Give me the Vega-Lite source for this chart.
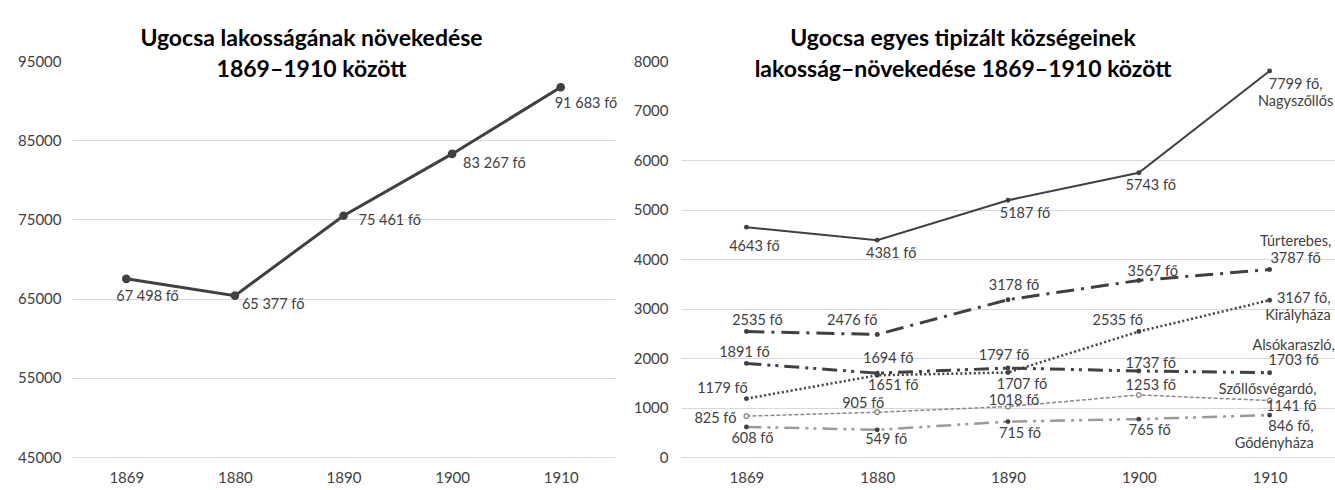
{
"$schema":"https://vega.github.io/schema/vega-lite/v6.json",
"background":"white",
"padding":{"left":17,"top":28,"right":0,"bottom":0},
"spacing":15,
"config":{
 "font":"Lato",
 "view":{"stroke":null},
 "axis":{"labelFont":"Lato","labelFontSize":15,"labelColor":"#404040","gridColor":"#d9d9d9","gridWidth":1,"domain":false,"ticks":false,"title":null},
 "title":{"font":"Lato","fontSize":23,"fontWeight":"bold","color":"#000000","lineHeight":31,"anchor":"middle","frame":"group"},
 "text":{"font":"Lato","fontSize":14.5,"color":"#404040","baseline":"middle","align":"center","lineBreak":"\n","lineHeight":17}
},
"datasets":{
 "tot":[
  {"year":"1869","v":67498,"lab":"67 498 fő"},
  {"year":"1880","v":65377,"lab":"65 377 fő"},
  {"year":"1890","v":75461,"lab":"75 461 fő"},
  {"year":"1900","v":83267,"lab":"83 267 fő"},
  {"year":"1910","v":91683,"lab":"91 683 fő"}
 ],
 "vil":[
  {"s":"Nagyszőllős","year":"1869","v":4643,"lab":"4643 fő"},
  {"s":"Nagyszőllős","year":"1880","v":4381,"lab":"4381 fő"},
  {"s":"Nagyszőllős","year":"1890","v":5187,"lab":"5187 fő"},
  {"s":"Nagyszőllős","year":"1900","v":5743,"lab":"5743 fő"},
  {"s":"Nagyszőllős","year":"1910","v":7799,"lab":"7799 fő,\nNagyszőllős"},
  {"s":"Túrterebes","year":"1869","v":2535,"lab":"2535 fő"},
  {"s":"Túrterebes","year":"1880","v":2476,"lab":"2476 fő"},
  {"s":"Túrterebes","year":"1890","v":3178,"lab":"3178 fő"},
  {"s":"Túrterebes","year":"1900","v":3567,"lab":"3567 fő"},
  {"s":"Túrterebes","year":"1910","v":3787,"lab":"Túrterebes,\n3787 fő"},
  {"s":"Királyháza","year":"1869","v":1179,"lab":"1179 fő"},
  {"s":"Királyháza","year":"1880","v":1651,"lab":"1651 fő"},
  {"s":"Királyháza","year":"1890","v":1707,"lab":"1707 fő"},
  {"s":"Királyháza","year":"1900","v":2535,"lab":"2535 fő"},
  {"s":"Királyháza","year":"1910","v":3167,"lab":"3167 fő,\nKirályháza"},
  {"s":"Alsókaraszló","year":"1869","v":1891,"lab":"1891 fő"},
  {"s":"Alsókaraszló","year":"1880","v":1694,"lab":"1694 fő"},
  {"s":"Alsókaraszló","year":"1890","v":1797,"lab":"1797 fő"},
  {"s":"Alsókaraszló","year":"1900","v":1737,"lab":"1737 fő"},
  {"s":"Alsókaraszló","year":"1910","v":1703,"lab":"Alsókaraszló,\n1703 fő"},
  {"s":"Szőllősvégardó","year":"1869","v":825,"lab":"825 fő"},
  {"s":"Szőllősvégardó","year":"1880","v":905,"lab":"905 fő"},
  {"s":"Szőllősvégardó","year":"1890","v":1018,"lab":"1018 fő"},
  {"s":"Szőllősvégardó","year":"1900","v":1253,"lab":"1253 fő"},
  {"s":"Szőllősvégardó","year":"1910","v":1141,"lab":"Szőllősvégardó,\n1141 fő"},
  {"s":"Gődényháza","year":"1869","v":608,"lab":"608 fő"},
  {"s":"Gődényháza","year":"1880","v":549,"lab":"549 fő"},
  {"s":"Gődényháza","year":"1890","v":715,"lab":"715 fő"},
  {"s":"Gődényháza","year":"1900","v":765,"lab":"765 fő"},
  {"s":"Gődényháza","year":"1910","v":846,"lab":"846 fő,\nGődényháza"}
 ]
},
"hconcat":[
 {
  "width":543,"height":396,
  "title":{"text":["Ugocsa lakosságának növekedése","1869–1910 között"],"dx":-32,"offset":-28},
  "data":{"name":"tot"},
  "encoding":{
   "x":{"field":"year","type":"ordinal","axis":{"labelAngle":0,"labelPadding":13,"grid":false}},
   "y":{"field":"v","type":"quantitative","scale":{"domain":[45000,95000],"nice":false,"zero":false},
        "axis":{"values":[45000,55000,65000,75000,85000,95000],"format":"d","labelPadding":11,
                "gridOpacity":{"condition":{"test":"datum.value>=95000","value":0},"value":1}}}
  },
  "layer":[
   {"mark":{"type":"line","color":"#404040","strokeWidth":3}},
   {"mark":{"type":"circle","size":75,"color":"#404040","opacity":1}},
   {"encoding":{"text":{"field":"lab"}},
    "layer":[
     {"transform":[{"filter":"datum.year=='1869'"}],"mark":{"type":"text","align":"left","dx":-10,"dy":18}},
     {"transform":[{"filter":"datum.year=='1880'"}],"mark":{"type":"text","align":"left","dx":7,"dy":9}},
     {"transform":[{"filter":"datum.year=='1890'"}],"mark":{"type":"text","align":"left","dx":15,"dy":5}},
     {"transform":[{"filter":"datum.year=='1900'"}],"mark":{"type":"text","align":"left","dx":11,"dy":10}},
     {"transform":[{"filter":"datum.year=='1910'"}],"mark":{"type":"text","align":"left","dx":-6,"dy":17}}
    ]}
  ]
 },
 {
  "width":654,"height":396,
  "title":{"text":["Ugocsa egyes tipizált községeinek","lakosság–növekedése 1869–1910 között"],"dx":-45,"offset":-28},
  "data":{"name":"vil"},
  "encoding":{
   "x":{"field":"year","type":"ordinal","axis":{"labelAngle":0,"labelPadding":13,"grid":false}},
   "y":{"field":"v","type":"quantitative","scale":{"domain":[0,8000],"nice":false},
        "axis":{"values":[0,1000,2000,3000,4000,5000,6000,7000,8000],"format":"d","labelPadding":13,
                "gridOpacity":{"condition":{"test":"datum.value>=7000","value":0},"value":1}}}
  },
  "layer":[
   {"transform":[{"filter":"datum.s=='Gődényháza'"}],"mark":{"type":"line","color":"#9a9a9a","strokeWidth":2.5,"strokeDash":[15,6,3,5,3,6]}},
   {"transform":[{"filter":"datum.s=='Szőllősvégardó'"}],"mark":{"type":"line","color":"#8a8a8a","strokeWidth":1.5,"strokeDash":[4,2]}},
   {"transform":[{"filter":"datum.s=='Alsókaraszló'"}],"mark":{"type":"line","color":"#404040","strokeWidth":3,"strokeDash":[15,6,3,5,3,6]}},
   {"transform":[{"filter":"datum.s=='Királyháza'"}],"mark":{"type":"line","color":"#404040","strokeWidth":2.5,"strokeDash":[2,2.5]}},
   {"transform":[{"filter":"datum.s=='Túrterebes'"}],"mark":{"type":"line","color":"#404040","strokeWidth":3,"strokeDash":[18,7,3,7]}},
   {"transform":[{"filter":"datum.s=='Nagyszőllős'"}],"mark":{"type":"line","color":"#404040","strokeWidth":2}},
   {"transform":[{"filter":"datum.s!='Szőllősvégardó'"}],"mark":{"type":"circle","size":24,"color":"#404040","opacity":1}},
   {"transform":[{"filter":"datum.s=='Szőllősvégardó'"}],"mark":{"type":"circle","size":22,"fill":"#ffffff","stroke":"#808080","strokeWidth":1.2,"opacity":1}},
   {"encoding":{"text":{"field":"lab"}},
    "layer":[
     {"transform":[{"filter":"datum.s=='Nagyszőllős'&&datum.year=='1869'"}],"mark":{"type":"text","dx":8,"dy":20}},
     {"transform":[{"filter":"datum.s=='Nagyszőllős'&&datum.year=='1880'"}],"mark":{"type":"text","dx":14,"dy":14}},
     {"transform":[{"filter":"datum.s=='Nagyszőllős'&&datum.year=='1890'"}],"mark":{"type":"text","dx":17,"dy":14}},
     {"transform":[{"filter":"datum.s=='Nagyszőllős'&&datum.year=='1900'"}],"mark":{"type":"text","dx":12,"dy":13}},
     {"transform":[{"filter":"datum.s=='Nagyszőllős'&&datum.year=='1910'"}],"mark":{"type":"text","dx":26,"dy":14}},
     {"transform":[{"filter":"datum.s=='Túrterebes'&&datum.year=='1869'"}],"mark":{"type":"text","dx":11,"dy":-11}},
     {"transform":[{"filter":"datum.s=='Túrterebes'&&datum.year=='1880'"}],"mark":{"type":"text","dx":-25,"dy":-13}},
     {"transform":[{"filter":"datum.s=='Túrterebes'&&datum.year=='1890'"}],"mark":{"type":"text","dx":6,"dy":-14}},
     {"transform":[{"filter":"datum.s=='Túrterebes'&&datum.year=='1900'"}],"mark":{"type":"text","dx":14,"dy":-8}},
     {"transform":[{"filter":"datum.s=='Túrterebes'&&datum.year=='1910'"}],"mark":{"type":"text","dx":26,"dy":-28}},
     {"transform":[{"filter":"datum.s=='Királyháza'&&datum.year=='1869'"}],"mark":{"type":"text","dx":-24,"dy":-10}},
     {"transform":[{"filter":"datum.s=='Királyháza'&&datum.year=='1880'"}],"mark":{"type":"text","dx":16,"dy":11}},
     {"transform":[{"filter":"datum.s=='Királyháza'&&datum.year=='1890'"}],"mark":{"type":"text","dx":14,"dy":12}},
     {"transform":[{"filter":"datum.s=='Királyháza'&&datum.year=='1900'"}],"mark":{"type":"text","dx":-21,"dy":-11}},
     {"transform":[{"filter":"datum.s=='Királyháza'&&datum.year=='1910'"}],"mark":{"type":"text","align":"right","dx":61,"dy":-1}},
     {"transform":[{"filter":"datum.s=='Alsókaraszló'&&datum.year=='1869'"}],"mark":{"type":"text","dx":-2,"dy":-10}},
     {"transform":[{"filter":"datum.s=='Alsókaraszló'&&datum.year=='1880'"}],"mark":{"type":"text","dx":11,"dy":-14}},
     {"transform":[{"filter":"datum.s=='Alsókaraszló'&&datum.year=='1890'"}],"mark":{"type":"text","dx":-4,"dy":-12}},
     {"transform":[{"filter":"datum.s=='Alsókaraszló'&&datum.year=='1900'"}],"mark":{"type":"text","dx":12,"dy":-7}},
     {"transform":[{"filter":"datum.s=='Alsókaraszló'&&datum.year=='1910'"}],"mark":{"type":"text","dx":24,"dy":-27,"lineHeight":15}},
     {"transform":[{"filter":"datum.s=='Szőllősvégardó'&&datum.year=='1869'"}],"mark":{"type":"text","dx":-31,"dy":3}},
     {"transform":[{"filter":"datum.s=='Szőllősvégardó'&&datum.year=='1880'"}],"mark":{"type":"text","dx":-14,"dy":-8}},
     {"transform":[{"filter":"datum.s=='Szőllősvégardó'&&datum.year=='1890'"}],"mark":{"type":"text","dx":6,"dy":-6}},
     {"transform":[{"filter":"datum.s=='Szőllősvégardó'&&datum.year=='1900'"}],"mark":{"type":"text","dx":12,"dy":-9}},
     {"transform":[{"filter":"datum.s=='Szőllősvégardó'&&datum.year=='1910'"}],"mark":{"type":"text","align":"right","dx":47,"dy":-11}},
     {"transform":[{"filter":"datum.s=='Gődényháza'&&datum.year=='1869'"}],"mark":{"type":"text","dx":6,"dy":12}},
     {"transform":[{"filter":"datum.s=='Gődényháza'&&datum.year=='1880'"}],"mark":{"type":"text","dx":9,"dy":10}},
     {"transform":[{"filter":"datum.s=='Gődényháza'&&datum.year=='1890'"}],"mark":{"type":"text","dx":12,"dy":12}},
     {"transform":[{"filter":"datum.s=='Gődényháza'&&datum.year=='1900'"}],"mark":{"type":"text","dx":11,"dy":12}},
     {"transform":[{"filter":"datum.s=='Gődényháza'&&datum.year=='1910'"}],"mark":{"type":"text","align":"right","dx":44,"dy":12}}
    ]}
  ]
 }
]
}
